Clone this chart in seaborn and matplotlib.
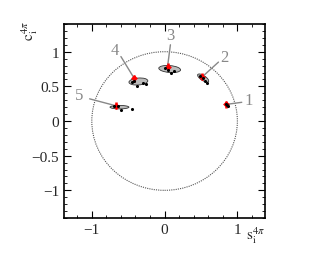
import numpy as np
import pandas as pd
import seaborn as sns
from matplotlib import pyplot as plt
from matplotlib.patches import Ellipse, Circle
from matplotlib.ticker import MultipleLocator

# bins 1..5: measured values (red), predictions (black dots), ellipses (grey)
bins = ['1', '2', '3', '4', '5']
s_meas = [0.85, 0.52, 0.04, -0.42, -0.67]
c_meas = [0.24, 0.64, 0.78, 0.62, 0.22]
s_err = [0.015, 0.015, 0.015, 0.015, 0.015]
c_err = [0.05, 0.05, 0.05, 0.05, 0.05]

ell_s = [0.86, 0.53, 0.07, -0.36, -0.62]
ell_c = [0.24, 0.62, 0.75, 0.57, 0.20]
ell_w = [0.06, 0.18, 0.30, 0.26, 0.26]
ell_h = [0.03, 0.07, 0.10, 0.10, 0.05]
ell_ang = [-50, -35, -5, 5, 0]

dot_s = [0.84, 0.86, 0.87, 0.49, 0.53, 0.56, 0.58, 0.00, 0.05, 0.09, 0.13,
         -0.45, -0.42, -0.38, -0.30, -0.26, -0.70, -0.64, -0.60, -0.45]
dot_c = [0.25, 0.23, 0.21, 0.65, 0.62, 0.58, 0.55, 0.76, 0.74, 0.69, 0.72,
         0.56, 0.58, 0.50, 0.55, 0.53, 0.22, 0.21, 0.16, 0.18]

lab_s = [1.16, 0.82, 0.08, -0.68, -1.18]
lab_c = [0.30, 0.92, 1.24, 1.02, 0.37]
line_s = [1.06, 0.74, 0.08, -0.60, -1.03]
line_c = [0.27, 0.85, 1.10, 0.93, 0.32]

sns.set_theme(style="ticks")
plt.rcParams['font.family'] = ['Liberation Serif', 'DejaVu Serif']
plt.rcParams['mathtext.fontset'] = 'stix'

fig = plt.figure(figsize=(3.24, 2.55), dpi=100)
ax = fig.add_axes([0.198, 0.141, 0.62, 0.761])

ax.add_patch(Circle((0, 0), 1, fill=False, ls=(0, (1, 1)), lw=0.8, color='#555555'))

for i in range(len(bins)):
    ax.add_patch(Ellipse((ell_s[i], ell_c[i]), ell_w[i], ell_h[i], angle=ell_ang[i],
                         facecolor='#bbbbbb', edgecolor='#333333', lw=0.6))
    ax.plot([s_meas[i], line_s[i]], [c_meas[i], line_c[i]], color='#888888', lw=1)
    ax.text(lab_s[i], lab_c[i], bins[i], color='#888888', fontsize=12,
            ha='center', va='center')

ax.errorbar(s_meas, c_meas, xerr=s_err, yerr=c_err, fmt='none', ecolor='red', elinewidth=1.8, zorder=4)
meas = pd.DataFrame({'s': s_meas, 'c': c_meas})
sns.scatterplot(data=meas, x='s', y='c', color='red', marker='D', s=12, linewidth=0, ax=ax, zorder=5)

dots = pd.DataFrame({'s': dot_s, 'c': dot_c})
sns.scatterplot(data=dots, x='s', y='c', color='black', s=5, linewidth=0, ax=ax, zorder=6)

ax.set_xlim(-1.38, 1.38)
ax.set_ylim(-1.4, 1.4)
ax.xaxis.set_major_locator(MultipleLocator(1))
ax.xaxis.set_minor_locator(MultipleLocator(0.2))
ax.yaxis.set_major_locator(MultipleLocator(0.5))
ax.yaxis.set_minor_locator(MultipleLocator(0.1))
ax.tick_params(which='both', direction='in', top=True, right=True, labelsize=11, color='black')
ax.tick_params(which='major', length=5, width=0.8)
ax.tick_params(which='minor', length=2.5, width=0.6)
ax.set_xticks([-1, 0, 1])
ax.set_xticklabels(['\u22121', '0', '1'])
ax.set_yticks([-1, -0.5, 0, 0.5, 1])
ax.set_yticklabels(['\u22121', '\u22120.5', '0', '0.5', '1'])
for sp in ax.spines.values():
    sp.set_linewidth(1.2)
    sp.set_color('black')

ax.set_xlabel('')
ax.set_ylabel('')
fig.text(0.79, 0.035, r'$\mathrm{s}_{\rm i}^{4\pi}$', fontsize=11, ha='center', va='bottom')
fig.text(0.09, 0.88, r'$\mathrm{c}_{\rm i}^{4\pi}$', fontsize=11, ha='center', va='center', rotation=90)

fig.savefig('out.png', dpi=100)
